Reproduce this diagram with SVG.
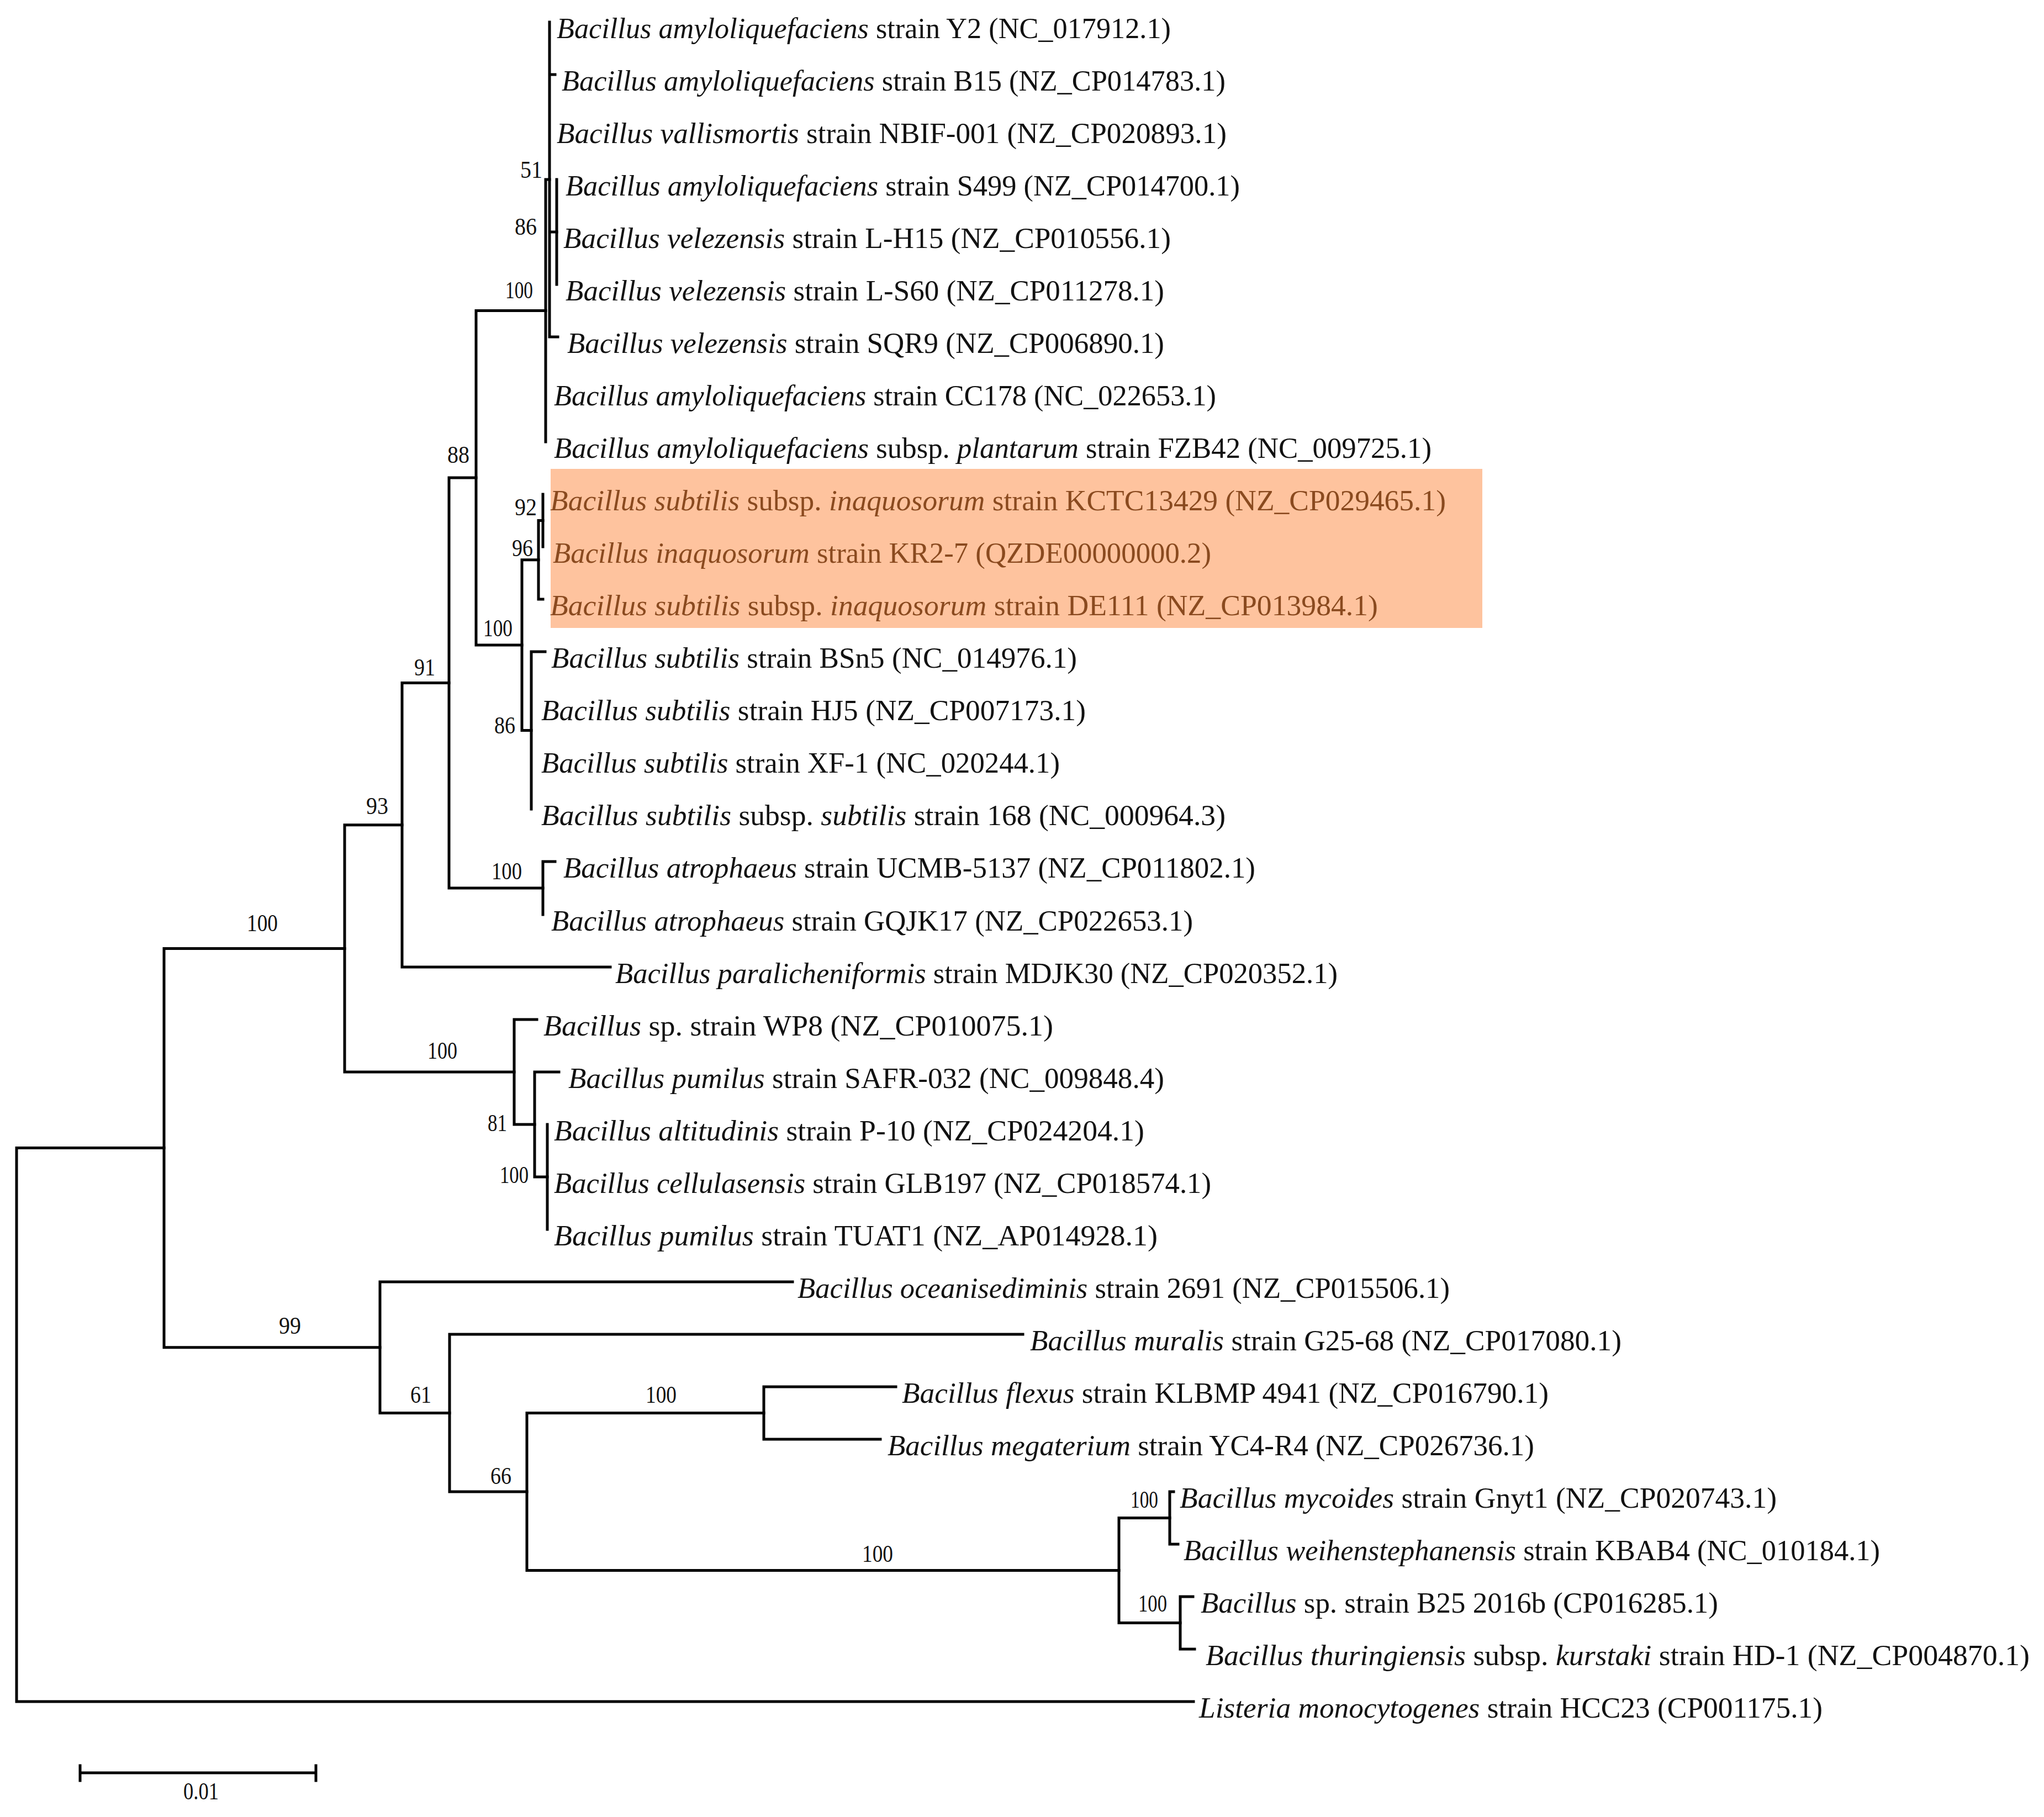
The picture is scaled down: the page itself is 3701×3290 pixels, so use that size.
<svg xmlns="http://www.w3.org/2000/svg" width="3701" height="3290" viewBox="0 0 3701 3290">
<style>
.br{stroke:#000;stroke-width:5;fill:none;stroke-linecap:square}
.lab{font-family:"Liberation Serif","Times New Roman",serif;font-size:53px;fill:#111}
.hl .lab{fill:#8a4a1f}
.it{font-style:italic}
.bs{font-family:"Liberation Serif","Times New Roman",serif;font-size:44px;fill:#111;text-anchor:end}
</style>
<rect width="3701" height="3290" fill="#fff"/>
<rect id="highlight" x="997" y="849" width="1687" height="288" fill="#fec39e"/>
<g id="connectors" class="br">
<path d="M30 2078.6V3081M30 3081H2161M30 2078.6H297"/>
<path d="M297 1717.4V2439.8M297 1717.4H624M297 2439.8H688"/>
<path d="M624 1493.7V1941M624 1493.7H728M624 1941H931"/>
<path d="M728 1236.5V1751M728 1236.5H813M728 1751H1105"/>
<path d="M813 865V1608M813 865H862M813 1608H983"/>
<path d="M862 562.5V1168M862 562.5H988M862 1168H945"/>
<path d="M988 325V800M988 325H995"/>
<path d="M995 40V610M995 135H1005M995 420H1008M995 610H1010"/>
<path d="M1008 325V515"/>
<path d="M945 1013.8V1322.5M945 1013.8H975M945 1322.5H962"/>
<path d="M975 942.5V1085M975 942.5H983M975 1085H983"/>
<path d="M983 895V990"/>
<path d="M962 1180V1465M962 1180H987"/>
<path d="M983 1560V1656M983 1560H1005"/>
<path d="M931 1846V2036M931 1846H972M931 2036H968"/>
<path d="M968 1941V2131M968 1941H1012M968 2131H991"/>
<path d="M991 2036V2226"/>
<path d="M688 2321V2558.5M688 2321H1435M688 2558.5H814"/>
<path d="M814 2416V2701M814 2416H1852M814 2701H954"/>
<path d="M954 2558.5V2843.5M954 2558.5H1383M954 2843.5H2026"/>
<path d="M1383 2511V2606M1383 2511H1622M1383 2606H1594"/>
<path d="M2026 2748.5V2938.5M2026 2748.5H2118M2026 2938.5H2137"/>
<path d="M2118 2701V2796M2118 2701H2125M2118 2796H2133"/>
<path d="M2137 2891V2986M2137 2891H2160M2137 2986H2163"/>
</g>
<g id="leaves">
<g id="leaf0"><text class="lab" x="1008" y="69" textLength="1112" lengthAdjust="spacingAndGlyphs"><tspan class="it">Bacillus amyloliquefaciens</tspan> strain Y2 (NC_017912.1)</text></g>
<g id="leaf1"><text class="lab" x="1017" y="164" textLength="1202" lengthAdjust="spacingAndGlyphs"><tspan class="it">Bacillus amyloliquefaciens</tspan> strain B15 (NZ_CP014783.1)</text></g>
<g id="leaf2"><text class="lab" x="1008" y="259" textLength="1213" lengthAdjust="spacingAndGlyphs"><tspan class="it">Bacillus vallismortis</tspan> strain NBIF-001 (NZ_CP020893.1)</text></g>
<g id="leaf3"><text class="lab" x="1024" y="354" textLength="1221" lengthAdjust="spacingAndGlyphs"><tspan class="it">Bacillus amyloliquefaciens</tspan> strain S499 (NZ_CP014700.1)</text></g>
<g id="leaf4"><text class="lab" x="1020" y="449" textLength="1100" lengthAdjust="spacingAndGlyphs"><tspan class="it">Bacillus velezensis</tspan> strain L-H15 (NZ_CP010556.1)</text></g>
<g id="leaf5"><text class="lab" x="1024" y="544" textLength="1084" lengthAdjust="spacingAndGlyphs"><tspan class="it">Bacillus velezensis</tspan> strain L-S60 (NZ_CP011278.1)</text></g>
<g id="leaf6"><text class="lab" x="1027" y="639" textLength="1081" lengthAdjust="spacingAndGlyphs"><tspan class="it">Bacillus velezensis</tspan> strain SQR9 (NZ_CP006890.1)</text></g>
<g id="leaf7"><text class="lab" x="1003" y="734" textLength="1199" lengthAdjust="spacingAndGlyphs"><tspan class="it">Bacillus amyloliquefaciens</tspan> strain CC178 (NC_022653.1)</text></g>
<g id="leaf8"><text class="lab" x="1003" y="829" textLength="1589" lengthAdjust="spacingAndGlyphs"><tspan class="it">Bacillus amyloliquefaciens</tspan> subsp. <tspan class="it">plantarum</tspan> strain FZB42 (NC_009725.1)</text></g>
<g class="hl">
<g id="leaf9"><text class="lab" x="996" y="924" textLength="1622" lengthAdjust="spacingAndGlyphs"><tspan class="it">Bacillus subtilis</tspan> subsp. <tspan class="it">inaquosorum</tspan> strain KCTC13429 (NZ_CP029465.1)</text></g>
<g id="leaf10"><text class="lab" x="1001" y="1019" textLength="1192" lengthAdjust="spacingAndGlyphs"><tspan class="it">Bacillus inaquosorum</tspan> strain KR2-7 (QZDE00000000.2)</text></g>
<g id="leaf11"><text class="lab" x="996" y="1114" textLength="1499" lengthAdjust="spacingAndGlyphs"><tspan class="it">Bacillus subtilis</tspan> subsp. <tspan class="it">inaquosorum</tspan> strain DE111 (NZ_CP013984.1)</text></g>
</g>
<g id="leaf12"><text class="lab" x="998" y="1209" textLength="952" lengthAdjust="spacingAndGlyphs"><tspan class="it">Bacillus subtilis</tspan> strain BSn5 (NC_014976.1)</text></g>
<g id="leaf13"><text class="lab" x="980" y="1304" textLength="986" lengthAdjust="spacingAndGlyphs"><tspan class="it">Bacillus subtilis</tspan> strain HJ5 (NZ_CP007173.1)</text></g>
<g id="leaf14"><text class="lab" x="980" y="1399" textLength="939" lengthAdjust="spacingAndGlyphs"><tspan class="it">Bacillus subtilis</tspan> strain XF-1 (NC_020244.1)</text></g>
<g id="leaf15"><text class="lab" x="980" y="1494" textLength="1239" lengthAdjust="spacingAndGlyphs"><tspan class="it">Bacillus subtilis</tspan> subsp. <tspan class="it">subtilis</tspan> strain 168 (NC_000964.3)</text></g>
<g id="leaf16"><text class="lab" x="1020" y="1589" textLength="1253" lengthAdjust="spacingAndGlyphs"><tspan class="it">Bacillus atrophaeus</tspan> strain UCMB-5137 (NZ_CP011802.1)</text></g>
<g id="leaf17"><text class="lab" x="998" y="1685" textLength="1162" lengthAdjust="spacingAndGlyphs"><tspan class="it">Bacillus atrophaeus</tspan> strain GQJK17 (NZ_CP022653.1)</text></g>
<g id="leaf18"><text class="lab" x="1114" y="1780" textLength="1308" lengthAdjust="spacingAndGlyphs"><tspan class="it">Bacillus paralicheniformis</tspan> strain MDJK30 (NZ_CP020352.1)</text></g>
<g id="leaf19"><text class="lab" x="984" y="1875" textLength="923" lengthAdjust="spacingAndGlyphs"><tspan class="it">Bacillus</tspan> sp. strain WP8 (NZ_CP010075.1)</text></g>
<g id="leaf20"><text class="lab" x="1029" y="1970" textLength="1079" lengthAdjust="spacingAndGlyphs"><tspan class="it">Bacillus pumilus</tspan> strain SAFR-032 (NC_009848.4)</text></g>
<g id="leaf21"><text class="lab" x="1003" y="2065" textLength="1069" lengthAdjust="spacingAndGlyphs"><tspan class="it">Bacillus altitudinis</tspan> strain P-10 (NZ_CP024204.1)</text></g>
<g id="leaf22"><text class="lab" x="1003" y="2160" textLength="1190" lengthAdjust="spacingAndGlyphs"><tspan class="it">Bacillus cellulasensis</tspan> strain GLB197 (NZ_CP018574.1)</text></g>
<g id="leaf23"><text class="lab" x="1003" y="2255" textLength="1093" lengthAdjust="spacingAndGlyphs"><tspan class="it">Bacillus pumilus</tspan> strain TUAT1 (NZ_AP014928.1)</text></g>
<g id="leaf24"><text class="lab" x="1444" y="2350" textLength="1181" lengthAdjust="spacingAndGlyphs"><tspan class="it">Bacillus oceanisediminis</tspan> strain 2691 (NZ_CP015506.1)</text></g>
<g id="leaf25"><text class="lab" x="1865" y="2445" textLength="1071" lengthAdjust="spacingAndGlyphs"><tspan class="it">Bacillus muralis</tspan> strain G25-68 (NZ_CP017080.1)</text></g>
<g id="leaf26"><text class="lab" x="1633" y="2540" textLength="1171" lengthAdjust="spacingAndGlyphs"><tspan class="it">Bacillus flexus</tspan> strain KLBMP 4941 (NZ_CP016790.1)</text></g>
<g id="leaf27"><text class="lab" x="1607" y="2635" textLength="1171" lengthAdjust="spacingAndGlyphs"><tspan class="it">Bacillus megaterium</tspan> strain YC4-R4 (NZ_CP026736.1)</text></g>
<g id="leaf28"><text class="lab" x="2136" y="2730" textLength="1081" lengthAdjust="spacingAndGlyphs"><tspan class="it">Bacillus mycoides</tspan> strain Gnyt1 (NZ_CP020743.1)</text></g>
<g id="leaf29"><text class="lab" x="2143" y="2825" textLength="1261" lengthAdjust="spacingAndGlyphs"><tspan class="it">Bacillus weihenstephanensis</tspan> strain KBAB4 (NC_010184.1)</text></g>
<g id="leaf30"><text class="lab" x="2174" y="2920" textLength="937" lengthAdjust="spacingAndGlyphs"><tspan class="it">Bacillus</tspan> sp. strain B25 2016b (CP016285.1)</text></g>
<g id="leaf31"><text class="lab" x="2183" y="3015" textLength="1492" lengthAdjust="spacingAndGlyphs"><tspan class="it">Bacillus thuringiensis</tspan> subsp. <tspan class="it">kurstaki</tspan> strain HD-1 (NZ_CP004870.1)</text></g>
<g id="leaf32"><text class="lab" x="2171" y="3110" textLength="1129" lengthAdjust="spacingAndGlyphs"><tspan class="it">Listeria monocytogenes</tspan> strain HCC23 (CP001175.1)</text></g>
</g>
<g id="bootstrap">
<g id="n51"><text class="bs" x="982" y="322" textLength="40" lengthAdjust="spacingAndGlyphs">51</text></g>
<g id="n86a"><text class="bs" x="972" y="425" textLength="40" lengthAdjust="spacingAndGlyphs">86</text></g>
<g id="n100a"><text class="bs" x="965" y="540" textLength="50" lengthAdjust="spacingAndGlyphs">100</text></g>
<g id="n88"><text class="bs" x="850" y="838" textLength="40" lengthAdjust="spacingAndGlyphs">88</text></g>
<g id="n92"><text class="bs" x="972" y="933" textLength="40" lengthAdjust="spacingAndGlyphs">92</text></g>
<g id="n96"><text class="bs" x="965" y="1007" textLength="38" lengthAdjust="spacingAndGlyphs">96</text></g>
<g id="n100b"><text class="bs" x="928" y="1152" textLength="53" lengthAdjust="spacingAndGlyphs">100</text></g>
<g id="n86b"><text class="bs" x="933" y="1328" textLength="38" lengthAdjust="spacingAndGlyphs">86</text></g>
<g id="n91"><text class="bs" x="788" y="1223" textLength="38" lengthAdjust="spacingAndGlyphs">91</text></g>
<g id="n93"><text class="bs" x="703" y="1474" textLength="40" lengthAdjust="spacingAndGlyphs">93</text></g>
<g id="n100c"><text class="bs" x="945" y="1592" textLength="55" lengthAdjust="spacingAndGlyphs">100</text></g>
<g id="n100f"><text class="bs" x="503" y="1686" textLength="56" lengthAdjust="spacingAndGlyphs">100</text></g>
<g id="n100d"><text class="bs" x="828" y="1917" textLength="54" lengthAdjust="spacingAndGlyphs">100</text></g>
<g id="n81"><text class="bs" x="918" y="2048" textLength="35" lengthAdjust="spacingAndGlyphs">81</text></g>
<g id="n100e"><text class="bs" x="957" y="2142" textLength="52" lengthAdjust="spacingAndGlyphs">100</text></g>
<g id="n99"><text class="bs" x="545" y="2415" textLength="40" lengthAdjust="spacingAndGlyphs">99</text></g>
<g id="n61"><text class="bs" x="781" y="2540" textLength="38" lengthAdjust="spacingAndGlyphs">61</text></g>
<g id="n66"><text class="bs" x="926" y="2687" textLength="38" lengthAdjust="spacingAndGlyphs">66</text></g>
<g id="n100g"><text class="bs" x="1225" y="2540" textLength="56" lengthAdjust="spacingAndGlyphs">100</text></g>
<g id="n100h"><text class="bs" x="1617" y="2828" textLength="56" lengthAdjust="spacingAndGlyphs">100</text></g>
<g id="n100i"><text class="bs" x="2097" y="2730" textLength="50" lengthAdjust="spacingAndGlyphs">100</text></g>
<g id="n100j"><text class="bs" x="2113" y="2918" textLength="52" lengthAdjust="spacingAndGlyphs">100</text></g>
</g>
<g id="scale-bar">
<path class="br" d="M145 3210H572M145 3197V3224M572 3197V3224"/>
<text class="bs" x="396" y="3258" textLength="64" lengthAdjust="spacingAndGlyphs">0.01</text>
</g>
</svg>
